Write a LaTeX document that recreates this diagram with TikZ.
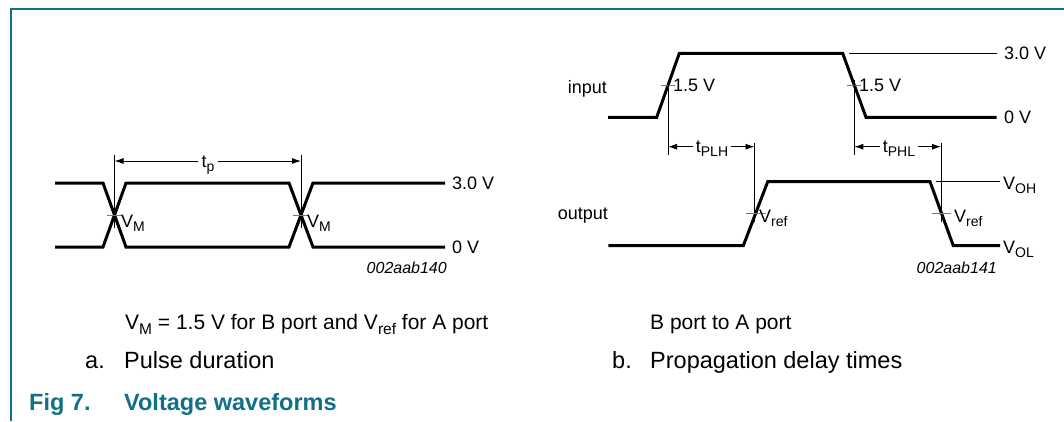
\documentclass[tikz,border=0pt]{standalone}
\usepackage{fontspec}
\setmainfont{Liberation Sans}
\usetikzlibrary{arrows.meta,calc}
\definecolor{nxpteal}{RGB}{16,112,137}
\definecolor{tickgray}{RGB}{120,120,120}
\def\subsz{14}
\newcommand\lowsub[1]{\raisebox{-0.27em}{\fontsize{\subsz}{\subsz}\selectfont #1}}
\begin{document}
\begin{tikzpicture}[x=1pt,y=-1pt,
  wave/.style={line width=3pt, line join=miter, line cap=butt},
  guide/.style={line width=0.9pt},
  tickmark/.style={line width=1pt, tickgray},
  dimarrow/.style={line width=0.9pt, -{Latex[length=9pt,width=6pt]}},
  lbl/.style={font=\fontsize{18}{21}\selectfont\def\subsz{14}, inner sep=0pt},
  dimlbl/.style={font=\fontsize{18}{21}\selectfont\def\subsz{14}, inner ysep=0pt, inner xsep=3pt, anchor=base},
  code/.style={font=\fontsize{16}{19}\selectfont\itshape, inner sep=0pt, anchor=east},
  notetext/.style={font=\fontsize{21}{25}\selectfont\def\subsz{15.5}, inner sep=0pt, anchor=base west},
  captext/.style={font=\fontsize{23.5}{28}\selectfont, inner sep=0pt, anchor=base west},
  figcap/.style={font=\fontsize{23.5}{28}\selectfont\bfseries, text=nxpteal, inner sep=0pt, anchor=base west},
]
\fill[white] (0,0) rectangle (1064,421);
\useasboundingbox (0,0) rectangle (1064,421);
\draw[nxpteal, line width=2pt] (11,421) -- (11,9) -- (1064,9);

% ---------- a. Pulse duration ----------
\draw[wave] (55,183) -- (103,183) -- (126,247) -- (289,247) -- (313,183) -- (445,183);
\draw[wave] (55,247) -- (103,247) -- (126,183) -- (289,183) -- (313,247) -- (445,247);
\coordinate (tpL) at (114.5,161);
\coordinate (tpR) at (301,161);
\draw[guide] (114.5,155) -- (114.5,228);
\draw[guide] (301,155) -- (301,228);
\draw[tickmark] (106.5,215) -- (122.5,215);
\draw[tickmark] (293,215) -- (309,215);
\node[dimlbl] (tp) at (208,167) {t\lowsub{p}};
\draw[dimarrow] (tp.west |- tpL) -- (tpL);
\draw[dimarrow] (tp.east |- tpR) -- (tpR);
\node[lbl, anchor=base west] (vm1) at (121,227) {V\lowsub{M}};
\node[lbl, anchor=base west] (vm2) at (307,227) {V\lowsub{M}};
\node[lbl, anchor=west] (ha) at (452,183) {3.0 V};
\node[lbl, anchor=west] (la) at (452,247) {0 V};
\node[code] (ca) at (447,268) {002aab140};

% ---------- b. Propagation delay ----------
\draw[wave] (608,117.3) -- (656.7,117.3) -- (679.3,53.3) -- (842.7,53.3) -- (866,117.3) -- (996.7,117.3);
\draw[guide] (849,53.3) -- (996.7,53.3);
\node[lbl, anchor=west] (hb) at (1004,53.3) {3.0 V};
\node[lbl, anchor=west] (lb) at (1004,117.3) {0 V};
\node[lbl, anchor=base east] (inp) at (607,93) {input};
\draw[tickmark] (661,85.3) -- (675,85.3);
\draw[tickmark] (847,85.3) -- (861,85.3);
\node[lbl, anchor=west] (v15a) at (673,85.3) {1.5 V};
\node[lbl, anchor=west] (v15b) at (859,85.3) {1.5 V};

\draw[guide] (668,80) -- (668,155);
\draw[guide] (854.3,80) -- (854.3,155);
\draw[guide] (754.5,143) -- (754.5,222);
\draw[guide] (941,143) -- (941,222);
\coordinate (plhL) at (668,146.7);
\coordinate (plhR) at (754.5,146.7);
\coordinate (phlL) at (854.3,146.7);
\coordinate (phlR) at (941,146.7);
\node[dimlbl] (plh) at (712,152) {t\lowsub{PLH}};
\node[dimlbl] (phl) at (899,152) {t\lowsub{PHL}};
\draw[dimarrow] (plh.west |- plhL) -- (plhL);
\draw[dimarrow] (plh.east |- plhR) -- (plhR);
\draw[dimarrow] (phl.west |- phlL) -- (phlL);
\draw[dimarrow] (phl.east |- phlR) -- (phlR);

\draw[wave] (608.3,245.7) -- (743.3,245.7) -- (767.7,181.7) -- (930,181.7) -- (953.3,245.7) -- (1000,245.7);
\draw[guide] (936,181.7) -- (1000,181.7);
\node[lbl, anchor=base west] (voh) at (1003,189) {V\lowsub{OH}};
\node[lbl, anchor=base west] (vol) at (1003,253) {V\lowsub{OL}};
\draw[tickmark] (745.5,213.7) -- (765.5,213.7);
\draw[tickmark] (932,213.7) -- (951,213.7);
\node[lbl, anchor=base west] (vr1) at (759,222) {V\lowsub{ref}};
\node[lbl, anchor=base west] (vr2) at (954,222) {V\lowsub{ref}};
\node[lbl, anchor=base east] (outp) at (608,219) {output};
\node[code] (cb) at (997,268) {002aab141};

% ---------- captions ----------
\node[notetext] (notea) at (125,329) {V\lowsub{M} = 1.5 V for B port and V\lowsub{ref} for A port};
\node[notetext] (noteb) at (650,329) {B port to A port};
\node[captext] (suba) at (85,368) {a.};
\node[captext] (subat) at (124,368) {Pulse duration};
\node[captext] (subb) at (612,368) {b.};
\node[captext] (subbt) at (650,368) {Propagation delay times};
\node[figcap] (fign) at (29,410) {Fig 7.};
\node[figcap] (figt) at (124,410) {Voltage waveforms};
\end{tikzpicture}
\end{document}
